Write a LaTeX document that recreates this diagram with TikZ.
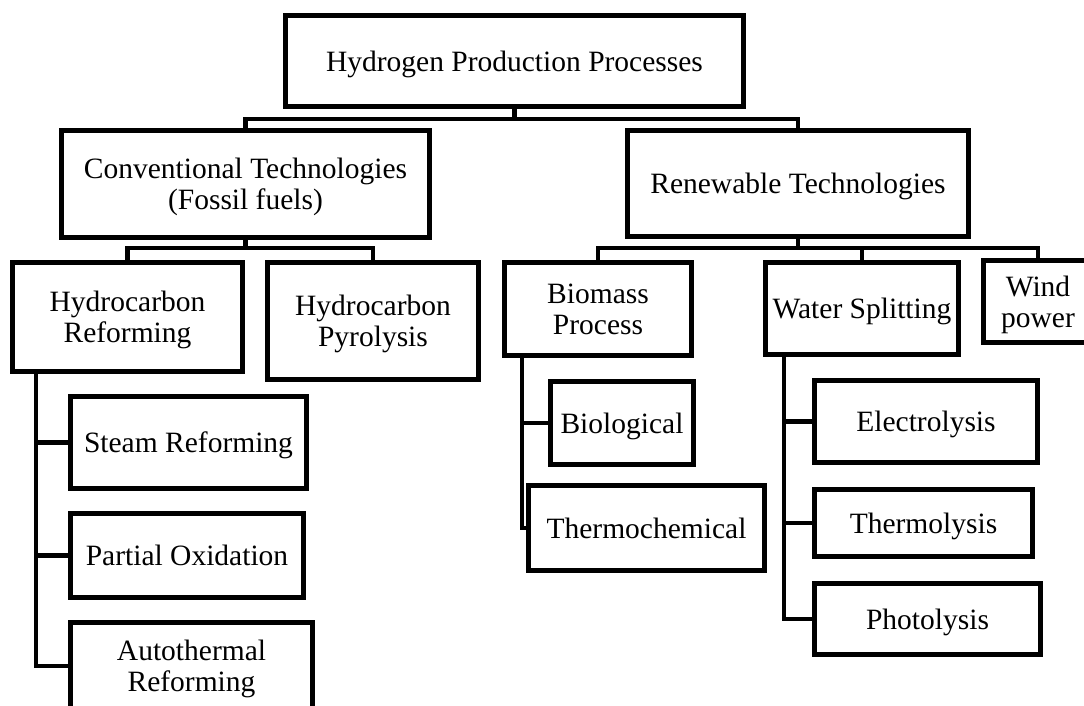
\documentclass[tikz,border=0pt]{standalone}
\usepackage{fontspec}
\setmainfont{Liberation Serif}
\begin{document}
\begin{tikzpicture}[x=1pt,y=-1pt,
  box/.style={draw, line width=5pt, inner sep=0pt, outer sep=0pt, align=center,
    text depth=0pt, font=\fontsize{29.5}{31}\selectfont},
  openbox/.style={box, draw=none},
  edge/.style={line width=5pt, line join=miter},
  conn/.style={line width=4.5pt, line join=miter}]
\useasboundingbox (0,0) rectangle (1084,706);
\clip (0,0) rectangle (1084,706);
% level 0
\node[box, minimum width=458pt, minimum height=91pt] (top) at (514.5,61) {Hydrogen Production Processes};
% level 1
\node[box, minimum width=368pt, minimum height=107pt] (conv) at (245.5,184) {Conventional Technologies\\(Fossil fuels)};
\node[box, minimum width=341pt, minimum height=106pt] (ren) at (798,183.5) {Renewable Technologies};
% level 2
\node[box, minimum width=230pt, minimum height=109pt] (hr) at (127.5,317) {Hydrocarbon\\Reforming};
\node[box, minimum width=211pt, minimum height=117pt] (hp) at (373,321) {Hydrocarbon\\Pyrolysis};
\node[box, minimum width=187pt, minimum height=93pt] (bp) at (598,309) {Biomass\\Process};
\node[box, minimum width=193pt, minimum height=92pt] (ws) at (862,308.5) {Water Splitting};
\node[openbox, minimum width=109pt, minimum height=82pt] (wp) at (1038,301.5) {Wind\\power};
\draw[edge] ([xshift=30pt]wp.north east) -- (wp.north west) -- (wp.south west) -- ([xshift=30pt]wp.south east);
% level 3
\node[box, minimum width=236pt, minimum height=92pt] (sr) at (188.5,442.5) {Steam Reforming};
\node[box, minimum width=233pt, minimum height=84pt] (po) at (187,555.5) {Partial Oxidation};
\node[box, minimum width=242pt, minimum height=87pt] (at) at (191.5,666) {Autothermal\\Reforming};
\node[box, minimum width=143pt, minimum height=83pt] (bio) at (622,423) {Biological};
\node[box, minimum width=236pt, minimum height=85pt] (thc) at (646.5,528) {Thermochemical};
\node[box, minimum width=223pt, minimum height=82pt] (el) at (926,421.5) {Electrolysis};
\node[box, minimum width=218pt, minimum height=67pt] (tl) at (923.5,523) {Thermolysis};
\node[box, minimum width=226pt, minimum height=71pt] (ph) at (927.5,619) {Photolysis};
% helper coordinates
\coordinate (b1) at (0,119);
\coordinate (b2) at (0,248);
\coordinate (tx) at (36,0);
\coordinate (bx) at (522,0);
\coordinate (wx) at (784,0);
% connectors
\draw[conn] (top.south) -- (top.south |- b1);
\draw[conn] (conv.north) -- (conv.north |- b1) -- (ren.north |- b1) -- (ren.north);
\draw[conn] (conv.south) -- (conv.south |- b2);
\draw[conn] (hr.north) -- (hr.north |- b2) -- (hp.north |- b2) -- (hp.north);
\draw[conn] (ren.south) -- (ren.south |- b2);
\draw[conn] (bp.north) -- (bp.north |- b2) -- (wp.north |- b2) -- (wp.north);
\draw[conn] (ws.north) -- (ws.north |- b2);
\draw[conn] (hr.south -| tx) -- (at.west -| tx) -- (at.west);
\draw[conn] (sr.west -| tx) -- (sr.west);
\draw[conn] (po.west -| tx) -- (po.west);
\draw[conn] (bp.south -| bx) -- (thc.west -| bx) -- (thc.west);
\draw[conn] (bio.west -| bx) -- (bio.west);
\draw[conn] (ws.south -| wx) -- (ph.west -| wx) -- (ph.west);
\draw[conn] (el.west -| wx) -- (el.west);
\draw[conn] (tl.west -| wx) -- (tl.west);
\end{tikzpicture}
\end{document}
